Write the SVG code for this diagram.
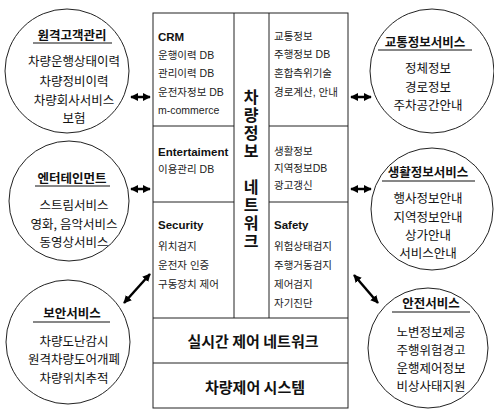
<svg xmlns="http://www.w3.org/2000/svg" width="494" height="410" viewBox="0 0 494 410">
<style>
  .bg{fill:#fff}
  .circ{fill:#fff;stroke:#222;stroke-width:1}
  .cell{fill:#fff;stroke:#222;stroke-width:1}
  .ct{font-family:"Noto Sans CJK KR",sans-serif;font-size:12.5px;fill:#111;text-anchor:middle}
  .ctt{font-family:"Noto Sans CJK KR",sans-serif;font-size:12.5px;font-weight:bold;fill:#111;text-anchor:middle}
  .ul{stroke:#111;stroke-width:1.2}
  .t{font-family:"Liberation Sans","Noto Sans CJK KR",sans-serif;font-size:10.5px;fill:#222}
  .th{font-family:"Liberation Sans","Noto Sans CJK KR",sans-serif;font-size:11.5px;font-weight:bold;fill:#111}
  .vt{font-family:"Noto Sans CJK KR",sans-serif;font-size:16px;font-weight:bold;fill:#111;writing-mode:vertical-rl;text-orientation:upright;letter-spacing:2px}
  .big{font-family:"Noto Sans CJK KR",sans-serif;font-size:15px;font-weight:bold;fill:#111;text-anchor:middle}
  .arr{stroke:#000;stroke-width:2.5;fill:none;marker-start:url(#ah);marker-end:url(#ah)}
</style>
<defs>
  <marker id="ah" viewBox="0 0 10 10" refX="9" refY="5" markerWidth="3.2" markerHeight="3.6" orient="auto-start-reverse" markerUnits="strokeWidth">
    <path d="M0,0 L10,5 L0,10 Z" fill="#000"/>
  </marker>
</defs>
<rect class="bg" x="0" y="0" width="494" height="410"/>

<g id="main-block">
  <rect class="cell" x="153" y="13" width="195" height="395"/>
  <line class="cell" x1="234" y1="13" x2="234" y2="318"/>
  <line class="cell" x1="269" y1="13" x2="269" y2="318"/>
  <line class="cell" x1="153" y1="126" x2="234" y2="126"/>
  <line class="cell" x1="269" y1="126" x2="348" y2="126"/>
  <line class="cell" x1="153" y1="202" x2="234" y2="202"/>
  <line class="cell" x1="269" y1="202" x2="348" y2="202"/>
  <line class="cell" x1="153" y1="318" x2="348" y2="318"/>
  <line class="cell" x1="153" y1="363" x2="348" y2="363"/>
</g>

<g id="cell-crm">
  <text class="th" x="158" y="41">CRM</text>
  <text class="t" x="158" y="59">운행이력 DB</text>
  <text class="t" x="158" y="77">관리이력 DB</text>
  <text class="t" x="158" y="96">운전자정보 DB</text>
  <text class="t" x="158" y="114">m-commerce</text>
</g>
<g id="cell-traffic">
  <text class="t" x="274" y="40">교통정보</text>
  <text class="t" x="274" y="58">주행정보 DB</text>
  <text class="t" x="274" y="77">혼합측위기술</text>
  <text class="t" x="274" y="96">경로계산, 안내</text>
</g>
<g id="cell-entertainment">
  <text class="th" x="158" y="156">Entertaiment</text>
  <text class="t" x="158" y="173">이용관리 DB</text>
</g>
<g id="cell-life">
  <text class="t" x="274" y="155">생활정보</text>
  <text class="t" x="274" y="172">지역정보DB</text>
  <text class="t" x="274" y="189">광고갱신</text>
</g>
<g id="cell-security">
  <text class="th" x="158" y="229">Security</text>
  <text class="t" x="158" y="250">위치검지</text>
  <text class="t" x="158" y="269">운전자 인증</text>
  <text class="t" x="158" y="288">구동장치 제어</text>
</g>
<g id="cell-safety">
  <text class="th" x="274" y="229">Safety</text>
  <text class="t" x="274" y="250">위험상태검지</text>
  <text class="t" x="274" y="269">주행거동검지</text>
  <text class="t" x="274" y="288">제어검지</text>
  <text class="t" x="274" y="307">자기진단</text>
</g>
<g id="vehicle-info-network">
  <text class="vt" x="251" y="89">차량정보 네트워크</text>
</g>
<g id="realtime-network">
  <text class="big" x="253" y="347">실시간 제어 네트워크</text>
</g>
<g id="vehicle-control">
  <text class="big" x="255" y="393">차량제어 시스템</text>
</g>

<g id="c-remote">
  <circle class="circ" cx="67" cy="71" r="62"/>
  <text class="ctt" x="72" y="40">원격고객관리</text>
  <line class="ul" x1="33" y1="43" x2="112" y2="43"/>
  <text class="ct" x="74" y="66">차량운행상태이력</text>
  <text class="ct" x="74" y="86">차량정비이력</text>
  <text class="ct" x="74" y="105">차량회사서비스</text>
  <text class="ct" x="74" y="123">보험</text>
</g>
<g id="c-entertainment">
  <circle class="circ" cx="69" cy="201" r="60"/>
  <text class="ctt" x="72" y="183">엔터테인먼트</text>
  <line class="ul" x1="35" y1="186" x2="110" y2="186"/>
  <text class="ct" x="74" y="210">스트림서비스</text>
  <text class="ct" x="74" y="229">영화, 음악서비스</text>
  <text class="ct" x="74" y="247">동영상서비스</text>
</g>
<g id="c-security">
  <circle class="circ" cx="68" cy="342" r="62"/>
  <text class="ctt" x="72" y="318">보안서비스</text>
  <line class="ul" x1="33" y1="322" x2="110" y2="322"/>
  <text class="ct" x="74" y="346">차량도난감시</text>
  <text class="ct" x="74" y="364">원격차량도어개폐</text>
  <text class="ct" x="74" y="383">차량위치추적</text>
</g>
<g id="c-traffic">
  <circle class="circ" cx="432" cy="71" r="62"/>
  <text class="ctt" x="425" y="47">교통정보서비스</text>
  <line class="ul" x1="378" y1="50" x2="472" y2="50"/>
  <text class="ct" x="428" y="73">정체정보</text>
  <text class="ct" x="428" y="92">경로정보</text>
  <text class="ct" x="428" y="110">주차공간안내</text>
</g>
<g id="c-life">
  <circle class="circ" cx="432" cy="209" r="61"/>
  <text class="ctt" x="428" y="177">생활정보서비스</text>
  <line class="ul" x1="382" y1="181" x2="475" y2="181"/>
  <text class="ct" x="428" y="203">행사정보안내</text>
  <text class="ct" x="428" y="222">지역정보안내</text>
  <text class="ct" x="428" y="240">상가안내</text>
  <text class="ct" x="428" y="258">서비스안내</text>
</g>
<g id="c-safety">
  <circle class="circ" cx="428" cy="348" r="60"/>
  <text class="ctt" x="431" y="308">안전서비스</text>
  <line class="ul" x1="392" y1="312" x2="470" y2="312"/>
  <text class="ct" x="431" y="337">노변정보제공</text>
  <text class="ct" x="431" y="355">주행위험경고</text>
  <text class="ct" x="431" y="373">운행제어정보</text>
  <text class="ct" x="431" y="391">비상사태지원</text>
</g>

<g id="connectors">
  <line class="arr" x1="131" y1="97" x2="150" y2="97"/>
  <line class="arr" x1="131" y1="189" x2="150" y2="189"/>
  <line class="arr" x1="351" y1="97" x2="371" y2="97"/>
  <line class="arr" x1="351" y1="189" x2="371" y2="189"/>
  <line class="arr" x1="150" y1="274" x2="124" y2="303"/>
  <line class="arr" x1="354" y1="275" x2="378" y2="303"/>
</g>
</svg>
